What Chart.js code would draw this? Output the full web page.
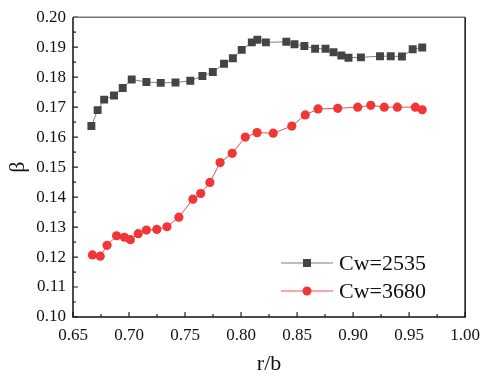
<!DOCTYPE html>
<html>
<head>
<meta charset="UTF-8">
<title>beta vs r/b</title>
<script src="https://cdn.jsdelivr.net/npm/chart.js"></script>
<style>
  html, body { margin: 0; padding: 0; background: #fff; }
  #wrap { width: 488px; height: 378px; }
</style>
</head>
<body>
<div id="wrap"><canvas id="c" width="488" height="378"></canvas></div>
<script>
// Cw=2535
const rbBlack = [0.6664, 0.6720, 0.6778, 0.6866, 0.6944, 0.7024, 0.7155, 0.7283, 0.7415, 0.7547,
  0.7655, 0.7748, 0.7848, 0.7927, 0.8006, 0.8096, 0.8146, 0.8222, 0.8404, 0.8477,
  0.8565, 0.8661, 0.8754, 0.8825, 0.8895, 0.8959, 0.9070, 0.9240, 0.9336, 0.9436,
  0.9532, 0.9617];
const betaBlack = [0.1637, 0.1690, 0.1725, 0.1739, 0.1764, 0.1792, 0.1784, 0.1781, 0.1782, 0.1788,
  0.1804, 0.1817, 0.1845, 0.1863, 0.1891, 0.1916, 0.1925, 0.1916, 0.1918, 0.1910,
  0.1904, 0.1895, 0.1895, 0.1883, 0.1872, 0.1865, 0.1866, 0.1870, 0.1870, 0.1869,
  0.1893, 0.1899];
// Cw=3680
const rbRed = [0.6673, 0.6743, 0.6804, 0.6889, 0.6959, 0.7012, 0.7082, 0.7155, 0.7248, 0.7339,
  0.7445, 0.7570, 0.7640, 0.7722, 0.7813, 0.7921, 0.8038, 0.8143, 0.8287, 0.8453,
  0.8573, 0.8687, 0.8863, 0.9041, 0.9158, 0.9278, 0.9395, 0.9556, 0.9617];
const betaRed = [0.1207, 0.1203, 0.1239, 0.1271, 0.1266, 0.1258, 0.1278, 0.1290, 0.1292, 0.1301,
  0.1333, 0.1393, 0.1412, 0.1449, 0.1515, 0.1546, 0.1600, 0.1615, 0.1613, 0.1637,
  0.1674, 0.1694, 0.1696, 0.1700, 0.1706, 0.1700, 0.1700, 0.1700, 0.1691];

const seriesNames = ['Cw=2535', 'Cw=3680'];
const xTicks = [0.65, 0.70, 0.75, 0.80, 0.85, 0.90, 0.95, 1.00];
const yTicks = [0.10, 0.11, 0.12, 0.13, 0.14, 0.15, 0.16, 0.17, 0.18, 0.19, 0.20];

const serif = "'Liberation Serif', 'Times New Roman', serif";

function pts(xs, ys) {
  return xs.map((x, i) => ({ x: x, y: ys[i] }));
}

// inward ticks + frame
const framePlugin = {
  id: 'frame',
  afterDraw(chart) {
    const ctx = chart.ctx;
    const a = chart.chartArea;
    const xs = chart.scales.x, ys = chart.scales.y;
    ctx.save();
    ctx.strokeStyle = '#222';
    ctx.lineWidth = 1.2;
    ctx.beginPath();
    xTicks.forEach((v, i) => {
      let px = xs.getPixelForValue(v);
      ctx.moveTo(px, a.bottom); ctx.lineTo(px, a.bottom - 5);
      if (i < xTicks.length - 1) {
        px = xs.getPixelForValue(v + 0.025);
        ctx.moveTo(px, a.bottom); ctx.lineTo(px, a.bottom - 3);
      }
    });
    yTicks.forEach((v, i) => {
      let py = ys.getPixelForValue(v);
      ctx.moveTo(a.left, py); ctx.lineTo(a.left + 5, py);
      if (i < yTicks.length - 1) {
        py = ys.getPixelForValue(v + 0.005);
        ctx.moveTo(a.left, py); ctx.lineTo(a.left + 3, py);
      }
    });
    ctx.stroke();
    // box
    ctx.lineWidth = 1.5;
    ctx.strokeStyle = '#777';
    ctx.beginPath();
    ctx.moveTo(a.left, a.top); ctx.lineTo(a.right, a.top);
    ctx.stroke();
    ctx.strokeStyle = '#111';
    ctx.beginPath();
    ctx.moveTo(a.left, a.top); ctx.lineTo(a.left, a.bottom);
    ctx.lineTo(a.right, a.bottom); ctx.lineTo(a.right, a.top);
    ctx.stroke();
    ctx.restore();
  }
};

// legend drawn inside the plot, bottom right
const innerLegend = {
  id: 'innerLegend',
  afterDatasetsDraw(chart) {
    const ctx = chart.ctx;
    chart.data.datasets.forEach((ds, i) => {
      const y = 263 + i * 28;
      ctx.save();
      ctx.strokeStyle = ds.borderColor;
      ctx.lineWidth = 1;
      ctx.beginPath();
      ctx.moveTo(281, y); ctx.lineTo(333, y);
      ctx.stroke();
      ctx.fillStyle = ds.pointBackgroundColor;
      if (ds.pointStyle === 'rect') {
        ctx.fillRect(307 - 4, y - 4, 8, 8);
      } else {
        ctx.beginPath();
        ctx.arc(307, y, 4.5, 0, Math.PI * 2);
        ctx.fill();
      }
      ctx.fillStyle = '#111';
      ctx.font = '22px ' + serif;
      ctx.textBaseline = 'middle';
      ctx.fillText(ds.label, 339, y + 1);
      ctx.restore();
    });
  }
};

new Chart(document.getElementById('c'), {
  type: 'line',
  data: {
    datasets: [
      {
        label: seriesNames[0],
        data: pts(rbBlack, betaBlack),
        borderColor: '#808080',
        borderWidth: 1,
        pointStyle: 'rect',
        pointRadius: 5.6,
        pointBackgroundColor: '#444',
        pointBorderColor: '#444',
        pointBorderWidth: 0
      },
      {
        label: seriesNames[1],
        data: pts(rbRed, betaRed),
        borderColor: '#f05050',
        borderWidth: 1,
        pointStyle: 'circle',
        pointRadius: 4.6,
        pointBackgroundColor: '#f03636',
        pointBorderColor: '#f03636',
        pointBorderWidth: 0
      }
    ]
  },
  options: {
    responsive: false,
    animation: false,
    layout: { padding: { top: 15, right: 16, left: 0, bottom: 0 } },
    plugins: { legend: { display: false }, tooltip: { enabled: false } },
    scales: {
      x: {
        type: 'linear',
        min: 0.65, max: 1.00,
        afterFit(s) { s.height = 61; },
        afterBuildTicks(s) { s.ticks = xTicks.map(v => ({ value: v })); },
        grid: { drawOnChartArea: false, drawTicks: false },
        border: { display: false },
        ticks: {
          padding: 8,
          color: '#111',
          font: { family: serif, size: 17 },
          callback: v => v.toFixed(2)
        },
        title: {
          display: true, text: 'r/b', color: '#111',
          font: { family: serif, size: 22 },
          padding: { top: 4, bottom: 1 }
        }
      },
      y: {
        min: 0.10, max: 0.20,
        afterFit(s) { s.width = 73; },
        afterBuildTicks(s) { s.ticks = yTicks.map(v => ({ value: v })); },
        grid: { drawOnChartArea: false, drawTicks: false },
        border: { display: false },
        ticks: {
          padding: 7,
          color: '#111',
          font: { family: serif, size: 17 },
          callback: v => v.toFixed(2)
        },
        title: {
          display: true, text: 'β', color: '#111',
          font: { family: serif, size: 22 },
          padding: { top: 5, bottom: 3 }
        }
      }
    }
  },
  plugins: [framePlugin, innerLegend]
});
</script>
</body>
</html>
